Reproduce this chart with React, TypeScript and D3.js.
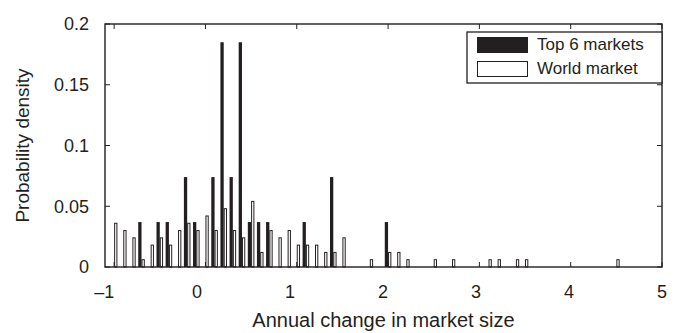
import React, { useRef, useEffect } from 'react';
import * as d3 from 'd3';

// bin centres (only bins with something in them)
const bins = [
  -1.0, -0.9, -0.8, -0.7, -0.6, -0.5, -0.4, -0.3, -0.2, -0.1,
  0.0, 0.1, 0.2, 0.3, 0.4, 0.5, 0.6, 0.7, 0.8, 0.9,
  1.0, 1.1, 1.2, 1.3, 1.4, 1.5, 1.8, 2.0, 2.1, 2.2,
  2.5, 2.7, 3.1, 3.2, 3.4, 3.5, 4.5,
];

const top6 = [
  0, 0, 0, 0.037, 0, 0.037, 0.037, 0, 0.074, 0.037,
  0, 0.074, 0.185, 0.074, 0.185, 0.037, 0.037, 0.037, 0, 0,
  0, 0.037, 0, 0, 0.074, 0, 0, 0.037, 0, 0,
  0, 0, 0, 0, 0, 0, 0,
];

const world = [
  0.036, 0.030, 0.024, 0.006, 0.018, 0.024, 0.018, 0.030, 0.036, 0.030,
  0.042, 0.030, 0.048, 0.030, 0.024, 0.054, 0.012, 0.030, 0.024, 0.030,
  0.018, 0.018, 0.018, 0.012, 0.012, 0.024, 0.006, 0.012, 0.012, 0.006,
  0.006, 0.006, 0.006, 0.006, 0.006, 0.006, 0.006,
];

const xTicks = [-1, 0, 1, 2, 3, 4, 5];
const yTicks = [0, 0.05, 0.1, 0.15, 0.2];
const legendItems = ['Top 6 markets', 'World market'];

const INK = '#231f20';
const FONT = '"Liberation Sans", Arial, Helvetica, sans-serif';

const Chart = ({ width = 675, height = 333 }) => {
  const ref = useRef(null);

  useEffect(() => {
    const svg = d3.select(ref.current);
    svg.selectAll('*').remove();

    const margin = { top: 24, right: 13, bottom: 66, left: 105 };
    const innerWidth = width - margin.left - margin.right;
    const innerHeight = height - margin.top - margin.bottom;

    const x = d3.scaleLinear().domain([-1.1, 5]).range([0, innerWidth]);
    const y = d3.scaleLinear().domain([0, 0.2]).range([innerHeight, 0]);
    // the printed tick labels sit on a slightly wider spread than the tick marks
    const xLabel = d3.scaleLinear().domain([-1, 5]).range([x(-1) - 10, x(5)]);

    const step = x(0.1) - x(0);
    const bw = step * 0.36;

    const chart = svg.append('g')
      .attr('transform', `translate(${margin.left}, ${margin.top})`);

    const rows = bins.map((b, i) => ({ b, top: top6[i], world: world[i] }));

    // black bars (left of bin centre)
    chart.selectAll('rect.top6')
      .data(rows)
      .join('rect')
      .attr('class', 'top6')
      .attr('x', d => x(d.b) - bw)
      .attr('y', d => y(d.top))
      .attr('width', bw)
      .attr('height', d => y(0) - y(d.top))
      .attr('fill', INK);

    // white bars (right of bin centre)
    chart.selectAll('rect.world')
      .data(rows)
      .join('rect')
      .attr('class', 'world')
      .attr('x', d => x(d.b) + 0.5)
      .attr('y', d => y(d.world))
      .attr('width', bw - 1)
      .attr('height', d => y(0) - y(d.world))
      .attr('fill', '#fff')
      .attr('stroke', INK)
      .attr('stroke-width', 1);

    // frame
    chart.append('rect')
      .attr('x', 0).attr('y', 0)
      .attr('width', innerWidth).attr('height', innerHeight)
      .attr('fill', 'none')
      .attr('stroke', INK)
      .attr('stroke-width', 1.4);

    // ticks, pointing inward on all four sides
    const tk = 5;
    xTicks.forEach(t => {
      chart.append('line').attr('x1', x(t)).attr('x2', x(t))
        .attr('y1', innerHeight).attr('y2', innerHeight - tk)
        .attr('stroke', INK).attr('stroke-width', 1);
      chart.append('line').attr('x1', x(t)).attr('x2', x(t))
        .attr('y1', 0).attr('y2', tk)
        .attr('stroke', INK).attr('stroke-width', 1);
    });
    yTicks.forEach(t => {
      chart.append('line').attr('x1', 0).attr('x2', tk)
        .attr('y1', y(t)).attr('y2', y(t))
        .attr('stroke', INK).attr('stroke-width', 1);
      chart.append('line').attr('x1', innerWidth).attr('x2', innerWidth - tk)
        .attr('y1', y(t)).attr('y2', y(t))
        .attr('stroke', INK).attr('stroke-width', 1);
    });

    // tick labels
    chart.selectAll('text.xt')
      .data(xTicks)
      .join('text')
      .attr('class', 'xt')
      .attr('x', d => xLabel(d))
      .attr('y', innerHeight + 31)
      .attr('text-anchor', 'middle')
      .text(d => (d < 0 ? '\u2013' + Math.abs(d) : String(d)))
      .style('font-size', '18px');

    chart.selectAll('text.yt')
      .data(yTicks)
      .join('text')
      .attr('class', 'yt')
      .attr('x', -16)
      .attr('y', d => y(d))
      .attr('dy', '0.35em')
      .attr('text-anchor', 'end')
      .text(d => String(d))
      .style('font-size', '18px');

    // axis titles
    chart.append('text')
      .attr('x', innerWidth / 2)
      .attr('y', innerHeight + 60)
      .attr('text-anchor', 'middle')
      .style('font-size', '20px')
      .text('Annual change in market size');

    chart.append('text')
      .attr('transform', `translate(${22 - margin.left}, ${innerHeight / 2}) rotate(-90)`)
      .attr('dy', '0.35em')
      .attr('text-anchor', 'middle')
      .style('font-size', '19px')
      .text('Probability density');

    // legend
    const lx = innerWidth - 195;
    const legend = chart.append('g').attr('transform', `translate(${lx}, 8)`);
    legend.append('rect')
      .attr('width', 195).attr('height', 51)
      .attr('fill', '#fff')
      .attr('stroke', INK)
      .attr('stroke-width', 1.3);
    legendItems.forEach((name, i) => {
      legend.append('rect')
        .attr('x', 10.5).attr('y', 5.5 + i * 24)
        .attr('width', 50).attr('height', 15)
        .attr('fill', i === 0 ? INK : '#fff')
        .attr('stroke', INK)
        .attr('stroke-width', 1);
      legend.append('text')
        .attr('x', 70)
        .attr('y', 18 + i * 24)
        .style('font-size', '17px')
        .text(name);
    });

    svg.selectAll('text')
      .attr('fill', INK)
      .style('font-family', FONT);
  }, [width, height]);

  return <svg ref={ref} width={width} height={height} style={{ display: 'block' }} />;
};

export default function App() {
  useEffect(() => {
    document.body.style.margin = '0';
  }, []);
  return <Chart />;
}
